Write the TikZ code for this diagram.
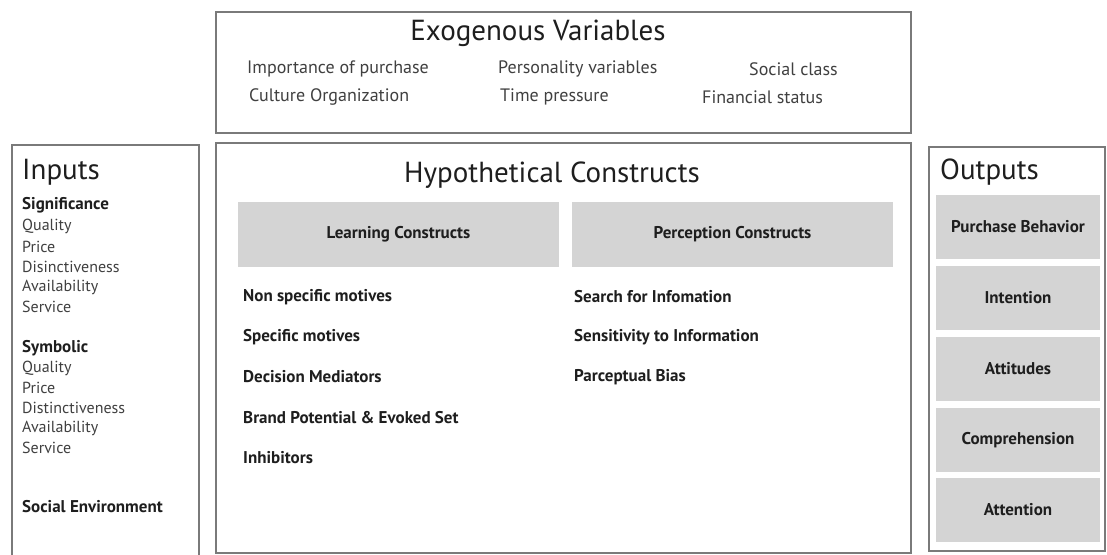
\documentclass[tikz,border=0pt]{standalone}
\usepackage{fontspec}
\setmainfont{PT Sans}
\usetikzlibrary{positioning}
\definecolor{edge}{HTML}{7A7A7A}
\definecolor{cellbg}{HTML}{D4D4D4}
\definecolor{ink}{HTML}{1E1E1E}
\definecolor{soft}{HTML}{404040}
\tikzset{
  frame/.style={draw=edge, line width=1.6pt},
  title/.style={text=ink, font=\fontsize{29}{32}\selectfont, inner sep=0pt},
  exo/.style={text=soft, font=\fontsize{18}{21}\selectfont, inner sep=0pt, anchor=west},
  inp/.style={text=soft, font=\fontsize{16}{18}\selectfont, inner sep=0pt, anchor=west},
  inph/.style={text=ink, font=\bfseries\fontsize{17}{19}\selectfont, inner sep=0pt, anchor=west},
  lst/.style={text=ink, font=\bfseries\fontsize{17}{19}\selectfont, inner sep=0pt, anchor=west},
  cell/.style={fill=cellbg, text=ink, font=\bfseries\fontsize{17}{19}\selectfont, inner sep=0pt},
}

\begin{document}
\begin{tikzpicture}[x=1pt, y=-1pt]
  \useasboundingbox[fill=white] (0,0) rectangle (1107,554);
  % frames
  \draw[frame] (216,12) rectangle (911,133);
  \draw[frame] (12,145) rectangle (199,556);
  \draw[frame] (216,143) rectangle (911,553);
  \draw[frame] (929,147) rectangle (1105,551);

  % exogenous variables
  \node[title] (exot) at (538,33) {Exogenous Variables};
  \node[exo] (imp) at (247,69) {Importance of purchase};
  \node[exo] (pers) at (498,69) {Personality variables};
  \node[exo] (soc) at (749,69) {Social class};
  \node[exo] (cult) at (249,97) {Culture Organization};
  \node[exo] (time) at (500,97) {Time pressure};
  \node[exo] (fin) at (702,97) {Financial status};

  % inputs
  \node[title, anchor=west] (inpt) at (22,172) {Inputs};
  \node[inph] (sig) at (22,205) {Significance};
  \foreach \txt/\yy [count=\i] in {Quality/226, Price/247, Disinctiveness/267, Availability/287, Service/307}
    \node[inp] (sig\i) at (22,\yy) {\txt};
  \node[inph] (sym) at (22,348) {Symbolic};
  \foreach \txt/\yy [count=\i] in {Quality/368, Price/388, Distinctiveness/408, Availability/428, Service/448}
    \node[inp] (sym\i) at (22,\yy) {\txt};
  \node[inph] (socenv) at (22,507) {Social Environment};

  % hypothetical constructs
  \node[title] (hypt) at (552,175) {Hypothetical Constructs};
  \node[cell, minimum width=321pt, minimum height=65pt] (learn) at (398.5,234.5) {Learning Constructs};
  \node[cell, minimum width=321pt, minimum height=65pt] (perc) at (732.5,234.5) {Perception Constructs};
  \foreach \txt/\yy [count=\i] in {Non specific motives/297, Specific motives/337, Decision Mediators/377, Brand Potential \& Evoked Set/418, Inhibitors/458}
    \node[lst] (lc\i) at (243,\yy) {\txt};
  \foreach \txt/\yy [count=\i] in {Search for Infomation/297, Sensitivity to Information/337, Parceptual Bias/377}
    \node[lst] (pc\i) at (574,\yy) {\txt};

  % outputs
  \node[title, anchor=west] (outt) at (940,172) {Outputs};
  \foreach \lab/\yy [count=\i] in {Purchase Behavior/227, Intention/298, Attitudes/369, Comprehension/440, Attention/510}
    \node[cell, minimum width=164pt, minimum height=64pt] (out\i) at (1018,\yy) {\lab};
\end{tikzpicture}
\end{document}
